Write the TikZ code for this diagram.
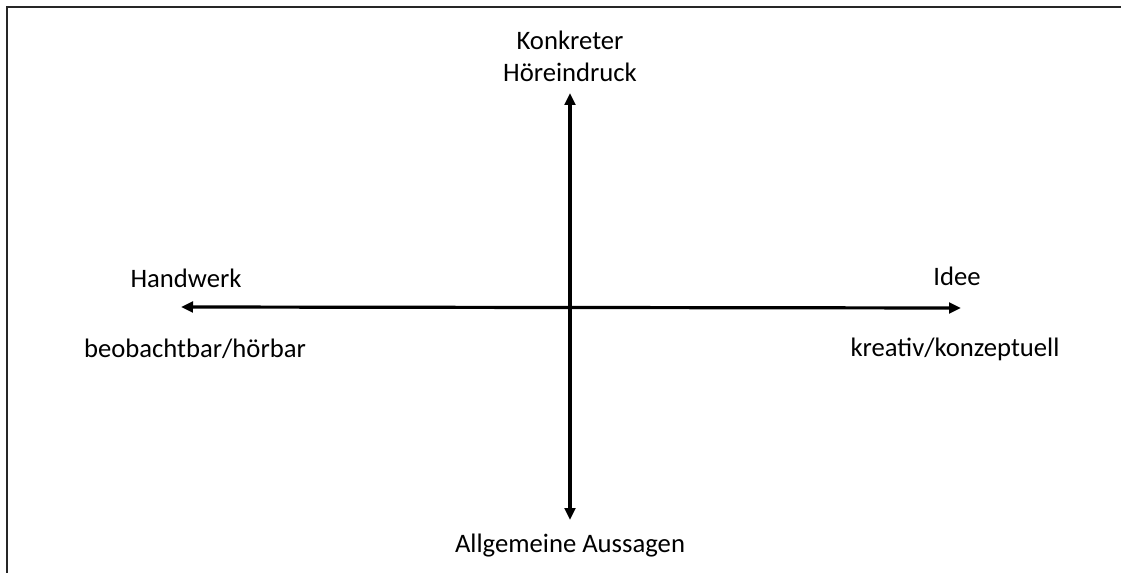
\documentclass[tikz,border=0pt]{standalone}
\usepackage{fontspec}
\setmainfont{Carlito}
\usetikzlibrary{arrows.meta}

\begin{document}
\begin{tikzpicture}[
  x=0.75pt, y=-0.75pt,
  lbl/.style={font=\fontsize{20}{24}\selectfont, align=center, inner sep=0pt},
  axis/.style={{Triangle[length=9pt,width=8pt]}-{Triangle[length=9pt,width=8pt]}, line width=2.4pt},
  frame/.style={line width=1.6pt, draw=black!85}
]
\useasboundingbox (0,0) rectangle (1121,573);
\draw[frame] (1121,7) -- (7,7) -- (7,573);

\coordinate (lft) at (181,307);
\coordinate (rgt) at (961,308);
\coordinate (top) at (570,93);
\coordinate (bot) at (570,520);

\draw[axis] (lft) -- (rgt);
\draw[axis] (top) -- (bot);

\node[lbl] (konkret) at (570,56) {Konkreter\\Höreindruck};
\node[lbl] (allg) at (570,546) {Allgemeine Aussagen};
\node[lbl] (handwerk) at (186,278) {Handwerk};
\node[lbl] (beob) at (195,349) {beobachtbar/hörbar};
\node[lbl] (idee) at (957,276) {Idee};
\node[lbl] (kreativ) at (955,349) {kreativ/konzeptuell};

\end{tikzpicture}
\end{document}
